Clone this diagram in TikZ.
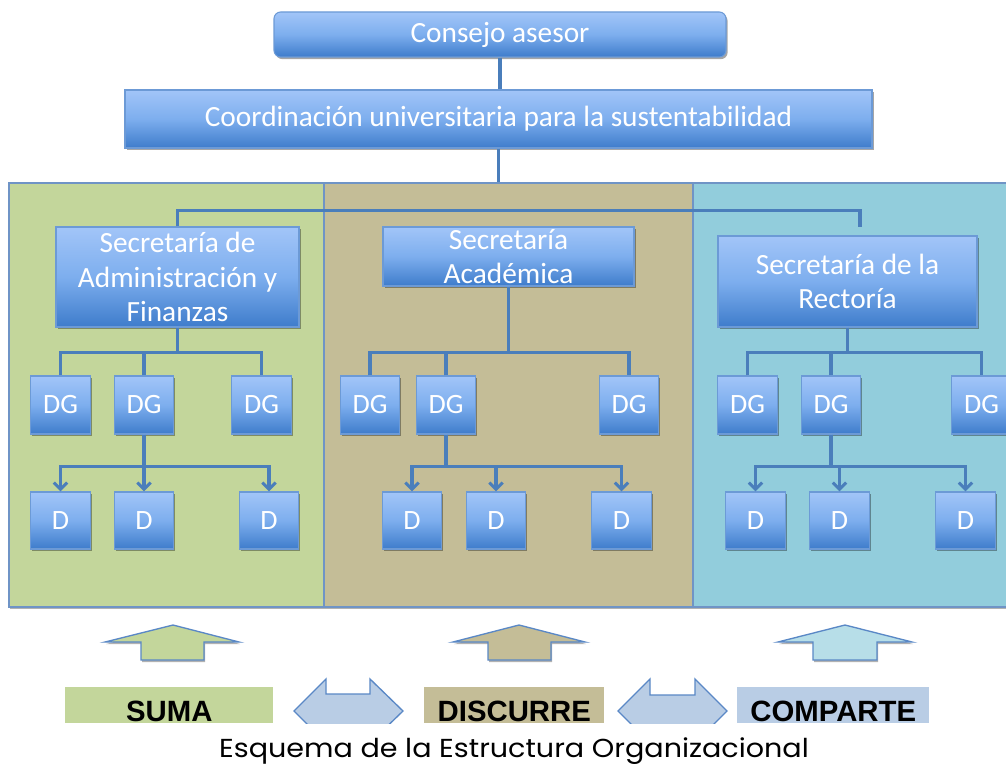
\documentclass[tikz,border=0pt]{standalone}
\usepackage{fontspec}
\setmainfont{Carlito}
\newfontfamily\capfont[FakeStretch=1.1]{Poppins}
\newfontfamily\labfont{Liberation Sans}
\usetikzlibrary{arrows.meta,shadows}
\definecolor{boxtop}{HTML}{A2C5F8}
\definecolor{boxmid}{HTML}{7DAEEE}
\definecolor{boxbot}{HTML}{3E7CCB}
\definecolor{boxline}{HTML}{6C9AD6}
\definecolor{connc}{HTML}{4A7EBB}
\definecolor{panline}{HTML}{6F94C6}
\definecolor{pgreen}{HTML}{C3D69B}
\definecolor{ptan}{HTML}{C4BD97}
\definecolor{pblue}{HTML}{92CDDC}
\definecolor{lblue}{HTML}{B9CDE5}
\definecolor{arrblue}{HTML}{B7DEE8}
\definecolor{arrline}{HTML}{5A88C6}
\begin{document}
\begin{tikzpicture}[x=0.75pt,y=-0.75pt,
  box/.style={draw=boxline, line width=0.8pt, top color=boxtop, bottom color=boxbot, middle color=boxmid,
    text=white, inner sep=0pt, align=center, font=\fontsize{22}{26}\selectfont,
    drop shadow={shadow xshift=1.2pt, shadow yshift=-1.6pt, opacity=0.35, fill=black}},
  dgbox/.style={box, font=\fontsize{21}{24}\selectfont, minimum width=44.5pt, minimum height=43.5pt},
  dbox/.style={box, font=\fontsize{21}{24}\selectfont, minimum width=44.5pt, minimum height=42.75pt},
  panel/.style={draw=panline, line width=0.8pt, inner sep=0pt,
    drop shadow={shadow xshift=0.8pt, shadow yshift=-1.5pt, opacity=0.3, fill=black}},
  conn/.style={draw=connc, line width=2.3pt},
  tip/.style={-{Straight Barb[length=5pt,width=10pt]}},
  uparr/.style={draw=arrline, line width=1pt, line join=miter,
    drop shadow={shadow xshift=0.8pt, shadow yshift=-1.5pt, opacity=0.3, fill=black}},
  dblarr/.style={draw=arrline, line width=1pt, fill=lblue},
  lab/.style={anchor=north west, inner sep=0pt, text height=25.5pt, text depth=1.5pt,
    font=\labfont\bfseries\fontsize{22}{26}\selectfont, text=black}
]
\clip (0,0) rectangle (1006,767);
\fill[white] (0,0) rectangle (1006,767);

% top level
\node[box, rounded corners=5pt, minimum width=339pt, minimum height=33.75pt] (cons) at (500,34.5) {Consejo asesor};
\node[box, minimum width=560.25pt, minimum height=43.5pt] (coord) at (498.5,119) {Coordinación universitaria para la sustentabilidad};
\draw[conn] (cons.south) -- (cons.south |- coord.north);

% panels
\node[panel, fill=pgreen, minimum width=236.25pt, minimum height=318pt] (panA) at (166.5,395) {};
\node[panel, fill=ptan, minimum width=276.75pt, minimum height=318pt] (panB) at (508.5,395) {};
\node[panel, fill=pblue, minimum width=245.25pt, minimum height=318pt] (panC) at (856.5,395) {};
\draw[conn] (coord.south) -- (coord.south |- panB.north);

% secretaries
\node[box, minimum width=182.25pt, minimum height=75pt] (secA) at (177.5,277) {Secretaría de\\Administración y\\Finanzas};
\node[box, inner ysep=-3pt, minimum width=188.25pt, minimum height=44.25pt] (secB) at (508.5,256.5) {Secretaría\\Académica};
\node[box, minimum width=194.25pt, minimum height=68.25pt] (secC) at (847.5,281.5) {Secretaría de la\\Rectoría};
\coordinate (rt) at (860,227);
\draw[conn] (secA.north) -- ++(0,-16) -| (rt);

% DG boxes
\node[dgbox] (dgA1) at (60.5,405) {DG};
\node[dgbox] (dgA2) at (144,405) {DG};
\node[dgbox] (dgA3) at (261.5,405) {DG};
\node[dgbox] (dgB1) at (370,405) {DG};
\node[dgbox] (dgB2) at (446,405) {DG};
\node[dgbox] (dgB3) at (629,405) {DG};
\node[dgbox] (dgC1) at (747.5,405) {DG};
\node[dgbox] (dgC2) at (831,405) {DG};
\node[dgbox] (dgC3) at (981.5,405) {DG};

% D boxes
\node[dbox] (dA1) at (60.5,520.5) {D};
\node[dbox] (dA2) at (144,520.5) {D};
\node[dbox] (dA3) at (269,520.5) {D};
\node[dbox] (dB1) at (412,520.5) {D};
\node[dbox] (dB2) at (496,520.5) {D};
\node[dbox] (dB3) at (621.5,520.5) {D};
\node[dbox] (dC1) at (755.5,520.5) {D};
\node[dbox] (dC2) at (839.5,520.5) {D};
\node[dbox] (dC3) at (965.5,520.5) {D};

% panel A connectors
\draw[conn] (secA.south) -- ++(0,25) coordinate (jA);
\draw[conn] (dgA1.north) |- (jA) -| (dgA3.north);
\draw[conn] (dgA2.north) -- (dgA2.north |- jA);
\draw[conn] (dgA2.south) -- ++(0,32) coordinate (kA);
\draw[conn,tip] (kA) -| (dA1.north);
\draw[conn,tip] (kA) -| (dA3.north);
\draw[conn,tip] (dA2.north |- kA) -- (dA2.north);

% panel B connectors
\draw[conn] (secB.south) -- ++(0,66) coordinate (jB);
\draw[conn] (dgB1.north) |- (jB) -| (dgB3.north);
\draw[conn] (dgB2.north) -- (dgB2.north |- jB);
\draw[conn] (dgB2.south) -- ++(0,32) coordinate (kB);
\draw[conn,tip] (kB) -| (dB1.north);
\draw[conn,tip] (kB) -| (dB3.north);
\draw[conn,tip] (dB2.north |- kB) -- (dB2.north);

% panel C connectors
\draw[conn] (secC.south) -- ++(0,25) coordinate (jC);
\draw[conn] (dgC1.north) |- (jC) -| (dgC3.north);
\draw[conn] (dgC2.north) -- (dgC2.north |- jC);
\draw[conn] (dgC2.south) -- ++(0,32) coordinate (kC);
\draw[conn,tip] (kC) -| (dC1.north);
\draw[conn,tip] (kC) -| (dC3.north);
\draw[conn,tip] (dC2.north |- kC) -- (dC2.north);

% up arrows
\draw[uparr, fill=pgreen] (173,625) -- (239,642) -- (204,642) -- (204,660) -- (141,660) -- (141,642) -- (105,642) -- cycle;
\draw[uparr, fill=ptan] (519,625) -- (585,642) -- (551,642) -- (551,660) -- (488,660) -- (488,642) -- (453,642) -- cycle;
\draw[uparr, fill=arrblue] (845,625) -- (912,642) -- (877,642) -- (877,660) -- (813,660) -- (813,642) -- (778,642) -- cycle;

% labels
\node[lab, fill=pgreen, minimum width=156pt] (suma) at (65,687) {SUMA};
\node[lab, fill=ptan, minimum width=135pt] (disc) at (424,687) {DISCURRE};
\node[lab, fill=lblue, minimum width=144pt] (comp) at (737,687) {COMPARTE};

% double arrows (cut at the bottom)
\begin{scope}
\clip (0,600) rectangle (1006,723);
\draw[dblarr] (294,711) -- (326,679) -- (326,694) -- (370,694) -- (370,679) -- (403,711) -- (370,743) -- (370,728) -- (326,728) -- (326,743) -- cycle;
\draw[dblarr] (618,711) -- (650,679) -- (650,695) -- (695,695) -- (695,679) -- (727,711) -- (695,743) -- (695,727) -- (650,727) -- (650,743) -- cycle;
\end{scope}

% caption
\node[anchor=base, inner sep=0pt, font=\capfont\fontsize{19.5}{22}\selectfont] (cap) at (514,757) {Esquema de la Estructura Organizacional};
\end{tikzpicture}
\end{document}
